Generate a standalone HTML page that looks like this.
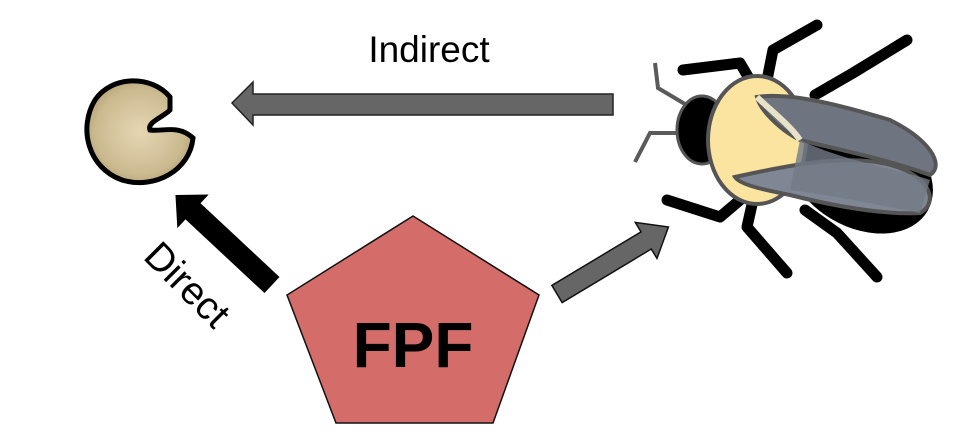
<!DOCTYPE html>
<html><head><meta charset="utf-8"><style>
html,body{margin:0;padding:0;background:#fff;}
svg{display:block;}
</style></head><body>
<svg width="975" height="432" viewBox="0 0 975 432" xmlns="http://www.w3.org/2000/svg">
<rect width="975" height="432" fill="#fff"/>
<defs>
<radialGradient id="g" cx="0.5" cy="0.5" r="0.6">
<stop offset="0" stop-color="#e6d7b4"/><stop offset="0.7" stop-color="#cbb98f"/><stop offset="1" stop-color="#a99670"/>
</radialGradient>
</defs>
<path d="M170,97 C152,75 112,75 95,100 C78,128 88,168 122,180 C155,190 190,170 193,138 C178,124 162,132 150,130 C147,122 162,118 170,110 Z" fill="url(#g)" stroke="#000" stroke-width="5"/>
<polygon points="232,103 253,82 253,94 613,94 613,115 253,115 253,125" fill="#666" stroke="#222" stroke-width="1.5"/>
<text x="429" y="62" font-family="Liberation Sans, sans-serif" font-size="37" text-anchor="middle" fill="#000">Indirect</text>
<g transform="translate(272,285) rotate(-137)">
<polygon points="0,-11 108,-11 108,-23 132,0 108,23 108,11 0,11" fill="#000"/>
</g>
<text transform="translate(178,294) rotate(45)" font-family="Liberation Sans, sans-serif" font-size="39" text-anchor="middle" fill="#000">Direct</text>
<g transform="translate(557,294) rotate(-31)">
<polygon points="0,-10 104,-10 104,-21 130,0 104,21 104,10 0,10" fill="#666" stroke="#111" stroke-width="1.5"/>
</g>
<polygon points="413,216 539,295 493,423 336,423 287,295" fill="#d46d6a" stroke="#111" stroke-width="1.5"/>
<text x="413" y="367" font-family="Liberation Sans, sans-serif" font-size="64" font-weight="bold" text-anchor="middle" fill="#000">FPF</text>
<g fill="none" stroke="#000" stroke-width="11" stroke-linecap="round" stroke-linejoin="round">
<polyline points="683,70 740,63 753,85"/>
<polyline points="817,25 773,50 767,80"/>
<polyline points="907,40 853,73 815,95"/>
<polyline points="667,200 720,217 740,200"/>
<polyline points="787,273 747,227 753,200"/>
<polyline points="877,277 837,233 805,210"/>
</g>
<g fill="none" stroke="#5a5a5a" stroke-width="4">
<polyline points="655,63 658,88 700,113"/>
<polyline points="635,162 650,133 695,133"/>
</g>
<ellipse cx="702" cy="130" rx="25" ry="34" fill="#000" stroke="#555" stroke-width="3"/>
<ellipse cx="860" cy="172" rx="78" ry="55" transform="rotate(30 860 172)" fill="#000"/>
<ellipse cx="757" cy="140" rx="49" ry="64" fill="#fbe3a0" stroke="#555" stroke-width="4"/>
<path d="M757,97 C790,92 840,105 890,120 C930,140 945,165 930,175 C890,160 840,150 800,140 C780,130 760,110 757,97 Z" fill="#6f7580" stroke="#555" stroke-width="4"/>
<path d="M735,177 C790,165 860,150 905,170 C935,185 935,205 920,213 C880,215 830,205 790,195 C765,190 740,185 735,177 Z" fill="#7f8794" stroke="#555" stroke-width="4"/>
<path d="M800,140 C840,160 900,170 930,180 L920,213 C880,205 830,195 790,190 Z" fill="#737a86" opacity="0.8"/>
<path d="M757,97 C770,110 790,125 800,140" fill="none" stroke="#e8e2c8" stroke-width="6"/>
</svg>
</body></html>
